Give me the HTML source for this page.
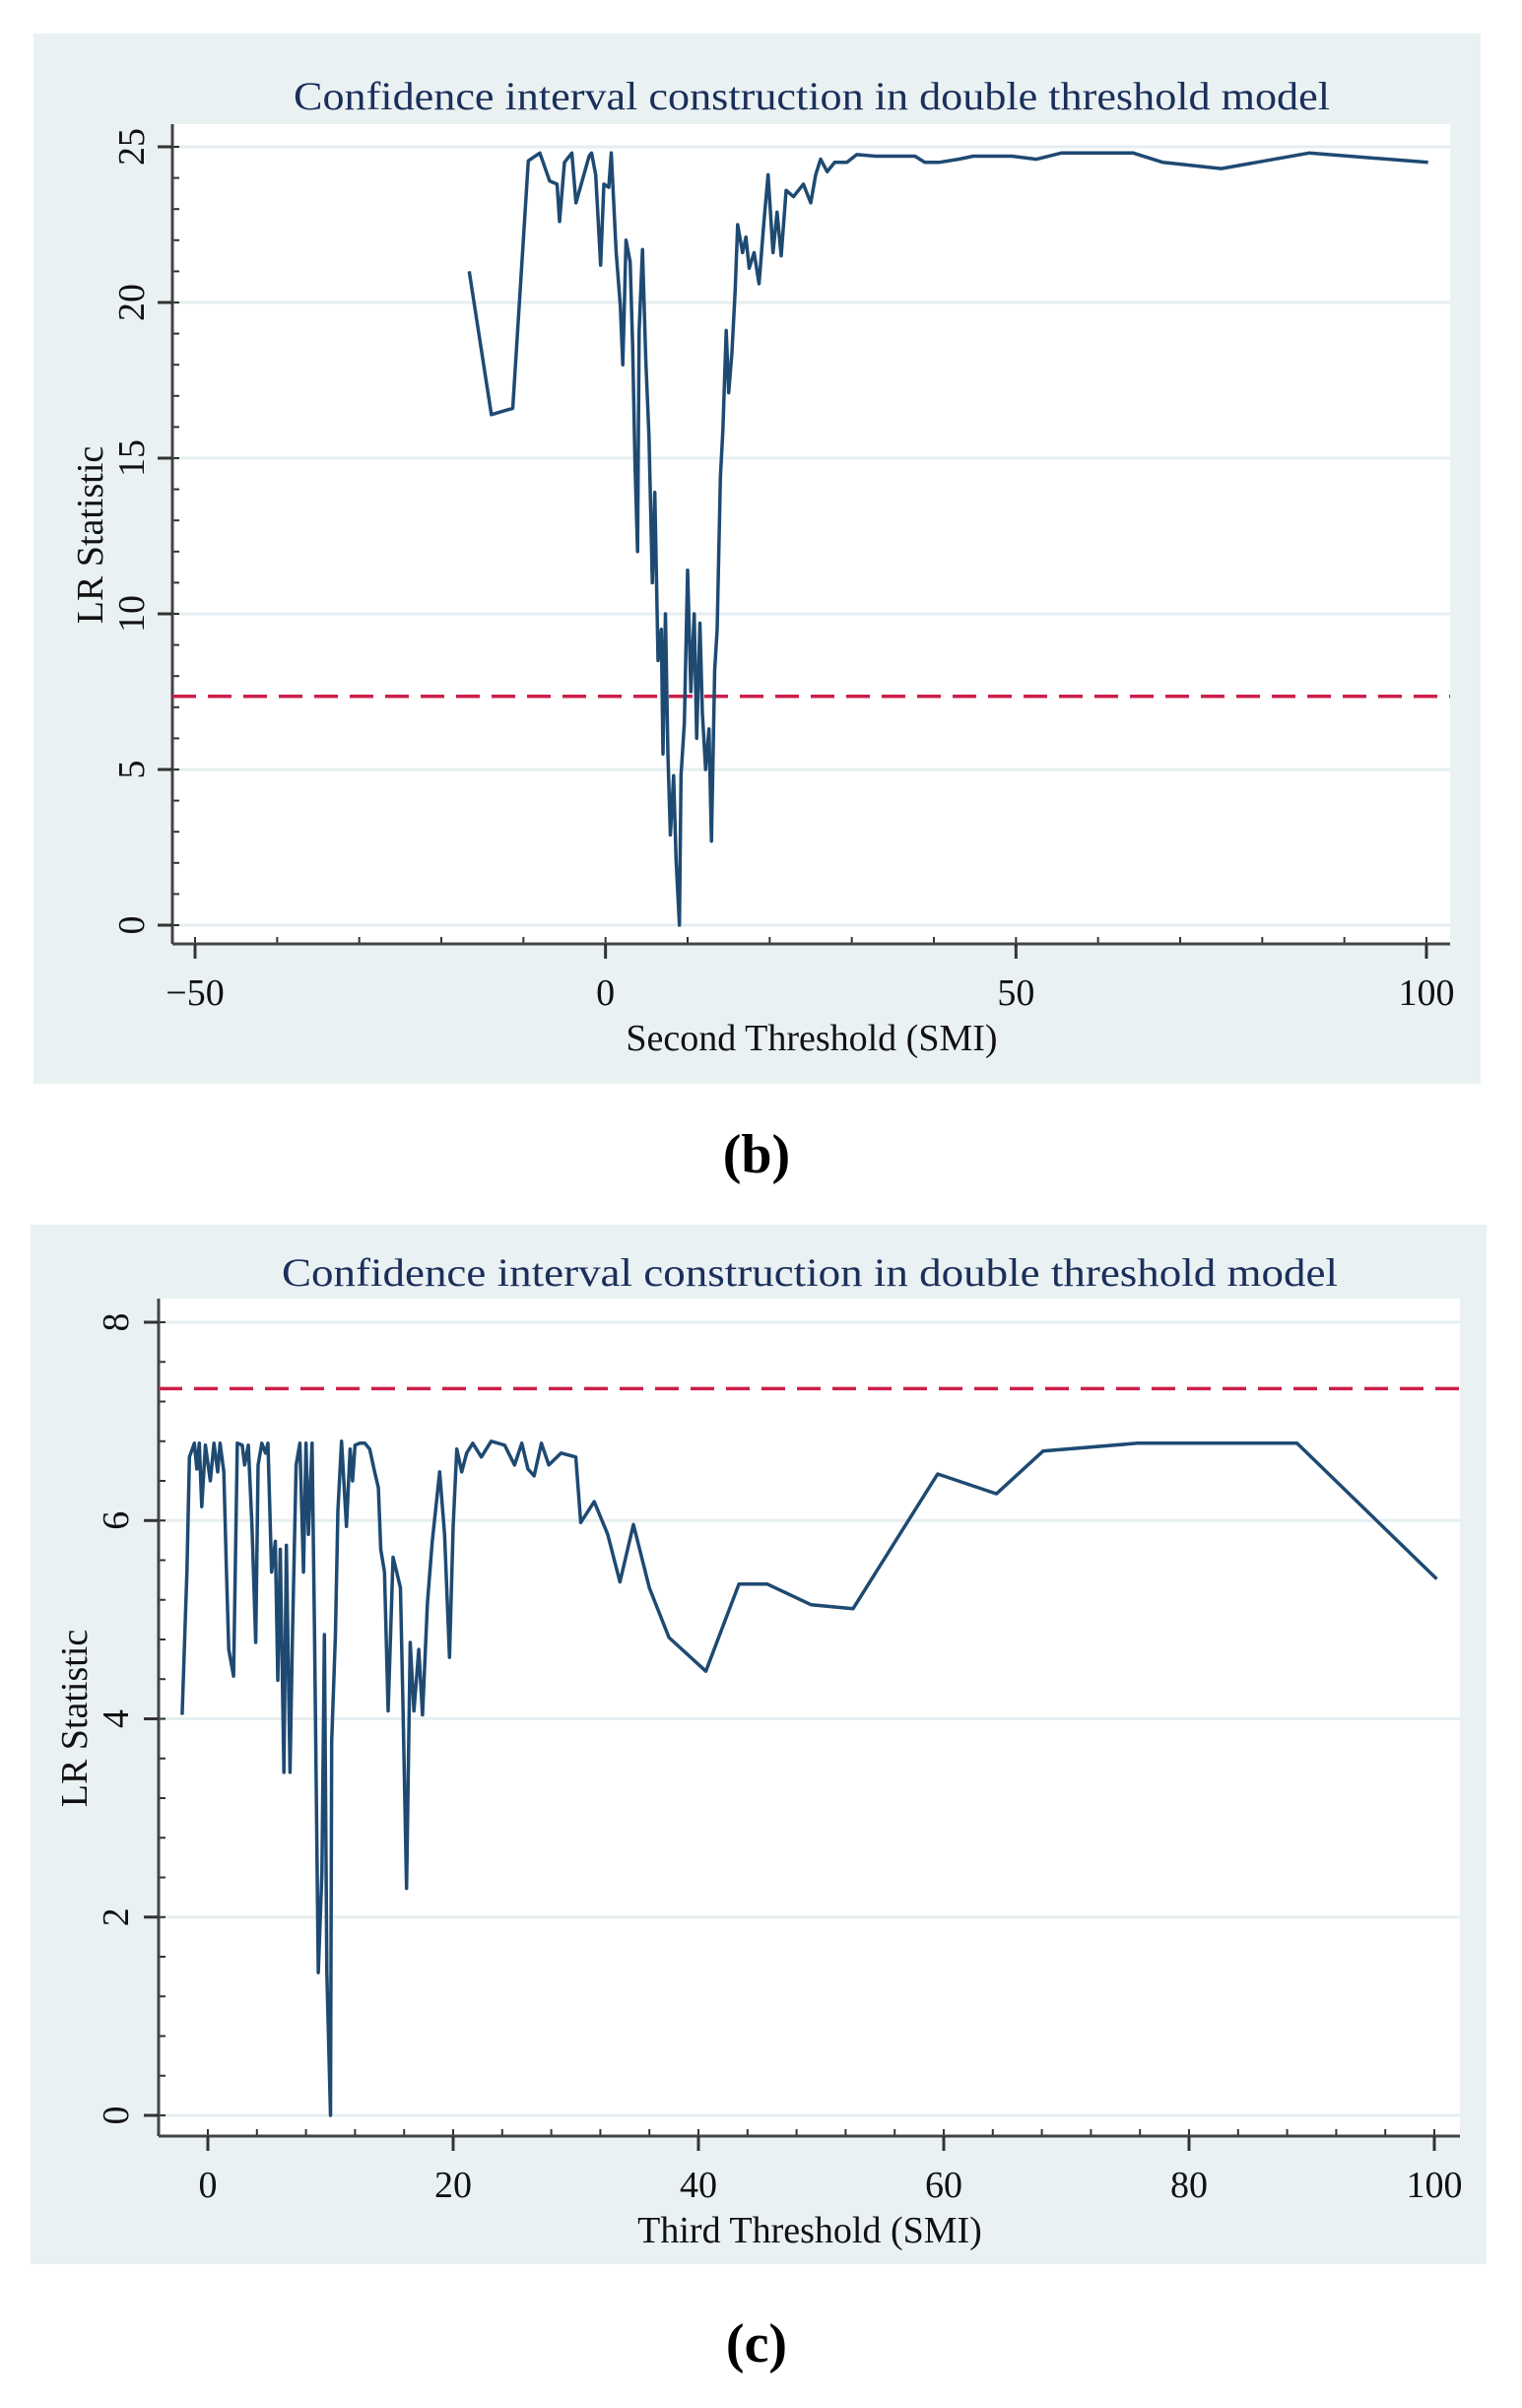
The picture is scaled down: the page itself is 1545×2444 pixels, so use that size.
<!DOCTYPE html>
<html><head><meta charset="utf-8"><style>
html,body{margin:0;padding:0;background:#fff;}
svg{display:block;}
text{font-family:"Liberation Serif",serif;}
</style></head><body>
<svg id="svg" width="1545" height="2444" viewBox="0 0 1545 2444" xmlns="http://www.w3.org/2000/svg">
<text x="768" y="1190" font-size="56" font-weight="bold" text-anchor="middle" fill="#000">(b)</text>
<text x="768" y="2397" font-size="56" font-weight="bold" text-anchor="middle" fill="#000">(c)</text>
</svg>
<script>
// ---- Panel b data ----
const bX = [-16.6,-13.9,-11.3,-9.4,-8,-6.8,-5.9,-5.6,-5,-4.1,-3.6,-2,-1.7,-1.2,-0.6,-0.2,0.4,0.7,1.3,1.8,2.1,2.5,3,3.3,3.6,3.9,4.1,4.5,4.9,5.3,5.7,6,6.4,6.8,7,7.3,7.6,7.9,8.3,8.6,9,9.2,9.6,10,10.4,10.8,11.1,11.5,11.8,12.2,12.6,12.9,13.3,13.6,14,14.3,14.7,15,15.4,15.8,16.1,16.7,17.1,17.5,18.1,18.7,19.3,19.8,20.4,20.9,21.4,22,22.9,24.1,25,25.6,26.2,27,27.9,29.4,30.6,32.9,35.3,37.7,38.9,40.6,43,44.8,49.5,52.5,55.5,64.3,67.9,75,85.7,100.2];
const bY = [21.0,16.4,16.6,24.55,24.8,23.9,23.8,22.6,24.5,24.8,23.2,24.7,24.8,24.1,21.2,23.8,23.7,24.8,21.6,19.9,18,22,21.3,18.6,14.7,12,19.1,21.7,18.2,15.7,11,13.9,8.5,9.5,5.5,10,5.5,2.9,4.8,2.1,0,4.8,6.5,11.4,7.5,10,6,9.7,6.8,5,6.3,2.7,8.2,9.5,14.4,15.9,19.1,17.1,18.4,20.4,22.5,21.6,22.1,21.1,21.6,20.6,22.6,24.1,21.6,22.9,21.5,23.6,23.4,23.8,23.2,24.1,24.6,24.2,24.5,24.5,24.75,24.7,24.7,24.7,24.5,24.5,24.6,24.7,24.7,24.6,24.8,24.8,24.5,24.3,24.8,24.5];
const bXTicks = [-50,0,50,100];
const bYTicks = [0,5,10,15,20,25];
const bCrit = 7.35;
// ---- Panel c data ----
const cX = [-2.1,-1.7,-1.5,-1.1,-0.9,-0.7,-0.5,-0.2,0.2,0.5,0.8,1,1.3,1.5,1.7,2.1,2.4,2.8,3,3.3,3.6,3.9,4.1,4.4,4.7,4.9,5.2,5.5,5.7,5.9,6.2,6.4,6.7,6.9,7.2,7.5,7.8,8,8.2,8.5,8.7,9,9.3,9.5,9.7,10,10.1,10.4,10.6,10.9,11.3,11.6,11.8,12,12.4,12.8,13.2,13.6,13.9,14.1,14.4,14.7,15.1,15.4,15.7,15.9,16.2,16.5,16.8,17.2,17.5,17.9,18.3,18.9,19.3,19.7,20,20.3,20.7,21.1,21.6,22.3,23.1,24.2,25,25.6,26.1,26.6,27.2,27.8,28.8,30,30.4,31.5,32.6,33.6,34.7,36,37.6,40.6,43.3,45.6,49.2,52.6,59.5,64.3,68.1,75.8,88.8,100.2];
const cY = [4.04,5.5,6.64,6.78,6.52,6.78,6.14,6.76,6.4,6.78,6.49,6.78,6.49,5.55,4.7,4.43,6.78,6.76,6.56,6.76,5.94,4.77,6.56,6.78,6.68,6.78,5.48,5.79,4.39,5.71,3.46,5.75,3.46,4.85,6.56,6.78,5.48,6.78,5.86,6.78,4.85,1.44,2.45,4.85,1.44,0,3.77,4.85,6.1,6.8,5.94,6.72,6.4,6.76,6.78,6.78,6.72,6.49,6.33,5.71,5.48,4.08,5.63,5.48,5.32,4.16,2.29,4.77,4.08,4.7,4.04,5.17,5.79,6.49,5.86,4.62,5.94,6.72,6.49,6.68,6.78,6.64,6.8,6.76,6.56,6.78,6.52,6.45,6.78,6.56,6.68,6.64,5.98,6.19,5.86,5.38,5.96,5.32,4.82,4.48,5.36,5.36,5.15,5.11,6.47,6.27,6.7,6.78,6.78,5.41];
const cXTicks = [0,20,40,60,80,100];
const cYTicks = [0,2,4,6,8];
const cCrit = 7.33;

const NS='http://www.w3.org/2000/svg';
const svg=document.getElementById('svg');
function mk(tag,attrs,parent){const e=document.createElementNS(NS,tag);for(const k in attrs)e.setAttribute(k,attrs[k]);(parent||svg).appendChild(e);return e;}

function panel(o){
  const g=mk('g',{});
  
  
  const bg=mk('rect',{x:o.bg[0],y:o.bg[1],width:o.bg[2]-o.bg[0],height:o.bg[3]-o.bg[1],fill:'#eaf1f3'},g);
  
  
  const pa=mk('rect',{x:o.axX,y:o.plotTop,width:o.plotRight-o.axX,height:o.axY-o.plotTop,fill:'#fff'},g);
  
  
  const sx=v=>o.x0px+(v-o.x0)*(o.x1px-o.x0px)/(o.x1-o.x0);
  const sy=v=>o.y0px+(v-o.y0)*(o.y1px-o.y0px)/(o.y1-o.y0);
  o.yTicks.forEach(t=>{
    const l=mk('line',{x1:o.axX,x2:o.plotRight,y1:sy(t),y2:sy(t),stroke:'#e6eef1','stroke-width':3},g);
    
    
  });
  for(let v=o.y0;v<=o.y1+1e-9;v+=o.yMinor){
    mk('line',{x1:o.axX,x2:o.axX+7,y1:sy(v),y2:sy(v),stroke:'#333','stroke-width':2},g);
  }
  for(let v=o.xMinStart;v<=o.x1+1e-9;v+=o.xMinor){
    mk('line',{x1:sx(v),x2:sx(v),y1:o.axY,y2:o.axY-7,stroke:'#333','stroke-width':2},g);
  }
  const ya=mk('line',{x1:o.axX,x2:o.axX,y1:o.plotTop,y2:o.axY,stroke:'#444','stroke-width':3},g);
  
  
  const xa=mk('line',{x1:o.axX,x2:o.plotRight,y1:o.axY,y2:o.axY,stroke:'#444','stroke-width':3},g);
  
  
  o.yTicks.forEach(t=>{
    mk('line',{x1:o.axX-15,x2:o.axX,y1:sy(t),y2:sy(t),stroke:'#333','stroke-width':3},g);
    const tx=mk('text',{x:o.ylabX,y:sy(t),'font-size':38,'text-anchor':'middle',fill:'#111',transform:`rotate(-90 ${o.ylabX} ${sy(t)})`},g);
    tx.textContent=String(t);
    
    
  });
  o.xTicks.forEach(t=>{
    mk('line',{x1:sx(t),x2:sx(t),y1:o.axY,y2:o.axY+15,stroke:'#333','stroke-width':3},g);
    const tx=mk('text',{x:sx(t),y:o.xlabY,'font-size':38,'text-anchor':'middle',fill:'#111'},g);
    tx.textContent=(t<0?'\u2212'+(-t):String(t));
    
    
  });
  const cl=mk('line',{x1:o.axX,x2:o.plotRight,y1:sy(o.crit),y2:sy(o.crit),stroke:'#cc1f4a','stroke-width':3.5,'stroke-dasharray':'24 12'},g);
  
  
  const pts=o.xs.map((x,i)=>sx(x).toFixed(1)+','+sy(o.ys[i]).toFixed(1)).join(' ');
  const pl=mk('polyline',{points:pts,fill:'none',stroke:'#1e4a72','stroke-width':3.5,'stroke-linejoin':'round'},g);
  
  
  const ti=mk('text',{x:o.titleX,y:o.titleY,'font-size':40,'text-anchor':'middle',fill:'#1a2f5a',textLength:o.titleW,lengthAdjust:'spacingAndGlyphs'},g);
  ti.textContent='Confidence interval construction in double threshold model';
  
  
  const xt=mk('text',{x:o.xtX,y:o.xtY,'font-size':38,'text-anchor':'middle',fill:'#111'},g);
  xt.textContent=o.xtitle;
  
  
  const yt=mk('text',{x:o.ytX,y:o.ytY,'font-size':38,'text-anchor':'middle',fill:'#111',transform:`rotate(-90 ${o.ytX} ${o.ytY})`},g);
  yt.textContent='LR Statistic';
  
  
}

panel({id:'panel-b-chart',bg:[34,34,1503,1100],axX:175,axY:958,plotTop:126,plotRight:1472,
  x0:-50,x1:100,x0px:198,x1px:1448,y0:0,y1:25,y0px:939,y1px:149,
  yTicks:bYTicks,xTicks:bXTicks,yMinor:1,xMinor:10,xMinStart:-50,crit:bCrit,xs:bX,ys:bY,
  ylabX:146,xlabY:1020,titleX:824,titleY:111,titleW:1052,xtitle:'Second Threshold (SMI)',xtX:824,xtY:1066,ytX:104,ytY:543});
panel({id:'panel-c-chart',bg:[31,1243,1509,2298],axX:161,axY:2168,plotTop:1318,plotRight:1482,
  x0:0,x1:100,x0px:211,x1px:1456,y0:0,y1:8,y0px:2147,y1px:1342,
  yTicks:cYTicks,xTicks:cXTicks,yMinor:0.4,xMinor:4,xMinStart:0,crit:cCrit,xs:cX,ys:cY,
  ylabX:130,xlabY:2230,titleX:822,titleY:1305,titleW:1072,xtitle:'Third Threshold (SMI)',xtX:822,xtY:2276,ytX:88,ytY:1744});
</script>
</body></html>
